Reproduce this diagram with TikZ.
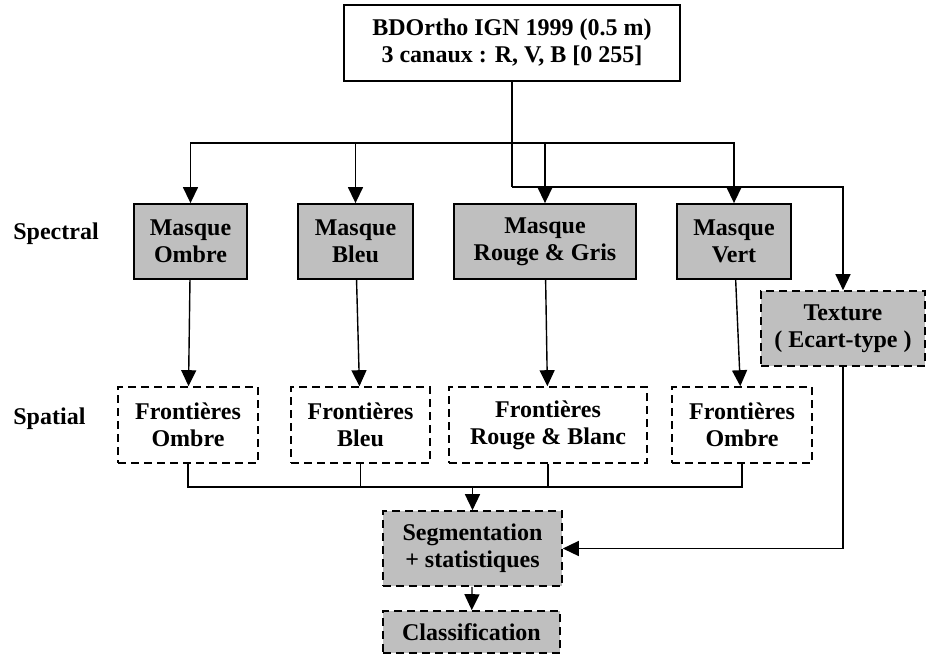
\documentclass[tikz,border=0pt]{standalone}
\usepackage{fontspec}
\setmainfont{Liberation Serif}
\usepackage{tikz}
\usetikzlibrary{arrows.meta,positioning}

\begin{document}
\begin{tikzpicture}
			[x=0.5pt, y=-0.5pt, font=\fontsize{12}{13.5}\selectfont\bfseries, inner sep=0pt,
			source/.style		= {draw, rectangle, line width=0.9pt, fill=white, align=center, minimum width=168pt, minimum height=38pt},
			masque/.style		= {draw, rectangle, line width=0.9pt, fill=gray!50, align=center, minimum height=37.5pt},
			frontiere/.style	= {draw, rectangle, line width=0.8pt, dash pattern=on 4pt off 2.5pt, align=center, minimum height=38pt},
			etape/.style		= {frontiere, fill=gray!50, minimum height=37.5pt},
			fleche/.style		= {line width=0.7pt, -{Triangle[width=7.5pt,length=8pt]}},
			trait/.style		= {line width=0.7pt}]

			\useasboundingbox (0,0) rectangle (927,654);

			\node [source]							at (512,43)		(src)		{BDOrtho IGN 1999 (0.5 m)\\3 canaux : R, V, B [0 255]};

			\node [masque, minimum width=56.5pt]	at (190.5,241.5)	(mOmbre)	{Masque\\Ombre};
			\node [masque, minimum width=57.5pt]	at (355.5,241.5)	(mBleu)		{Masque\\Bleu};
			\node [masque, minimum width=91pt]		at (545,241.5)		(mRouge)	{Masque\\Rouge \& Gris};
			\node [masque, minimum width=57pt]		at (734,241.5)		(mVert)		{Masque\\Vert};
			\node [etape, minimum width=82pt]		at (843,328.5)		(texture)	{Texture\\( Ecart-type )};

			\node [frontiere, minimum width=70pt]	at (188,425)		(fOmbre)	{Frontières\\Ombre};
			\node [frontiere, minimum width=69.5pt]	at (360.5,425)		(fBleu)		{Frontières\\Bleu};
			\node [frontiere, minimum width=99pt]	at (548,425)		(fRouge)	{Frontières\\Rouge \& Blanc};
			\node [frontiere, minimum width=70pt]	at (742,425)		(fVert)		{Frontières\\Ombre};

			\node [etape, minimum width=89.5pt]		at (472.5,548.5)	(seg)		{Segmentation\\+ statistiques};
			\node [etape, minimum width=88.5pt, minimum height=21pt]	at (471.5,632)	(classif)	{Classification};

			\node [anchor=west]						at (13,234)			(spectral)	{Spectral};
			\node [anchor=west]						at (13,419)			(spatial)	{Spatial};

			\coordinate (bus1) at (0,143);
			\coordinate (bus2) at (0,187);
			\coordinate (bus3) at (0,487);

			% source vers les masques
			\draw [trait, line width=1pt] (src.south) -- (src.south |- bus2);
			\foreach \m in {mOmbre, mBleu, mRouge, mVert}
				\draw [fleche] (src.south |- bus1) -| (\m);
			\draw [fleche] (src.south |- bus2) -| (texture);

			% masques vers frontieres
			\draw [fleche] (mOmbre) -- (fOmbre);
			\draw [fleche] (mBleu) -- (fBleu);
			\draw [fleche] (mRouge) -- (fRouge);
			\draw [fleche] (mVert) -- (fVert);

			% frontieres vers segmentation
			\foreach \f in {fOmbre, fBleu, fRouge, fVert}
				\draw [trait] (\f.south) |- (seg.north |- bus3);
			\draw [fleche] (seg.north |- bus3) -- (seg);
			\draw [fleche] (texture) |- (seg);
			\draw [fleche] (seg) -- (classif);
			\end{tikzpicture}
\end{document}
